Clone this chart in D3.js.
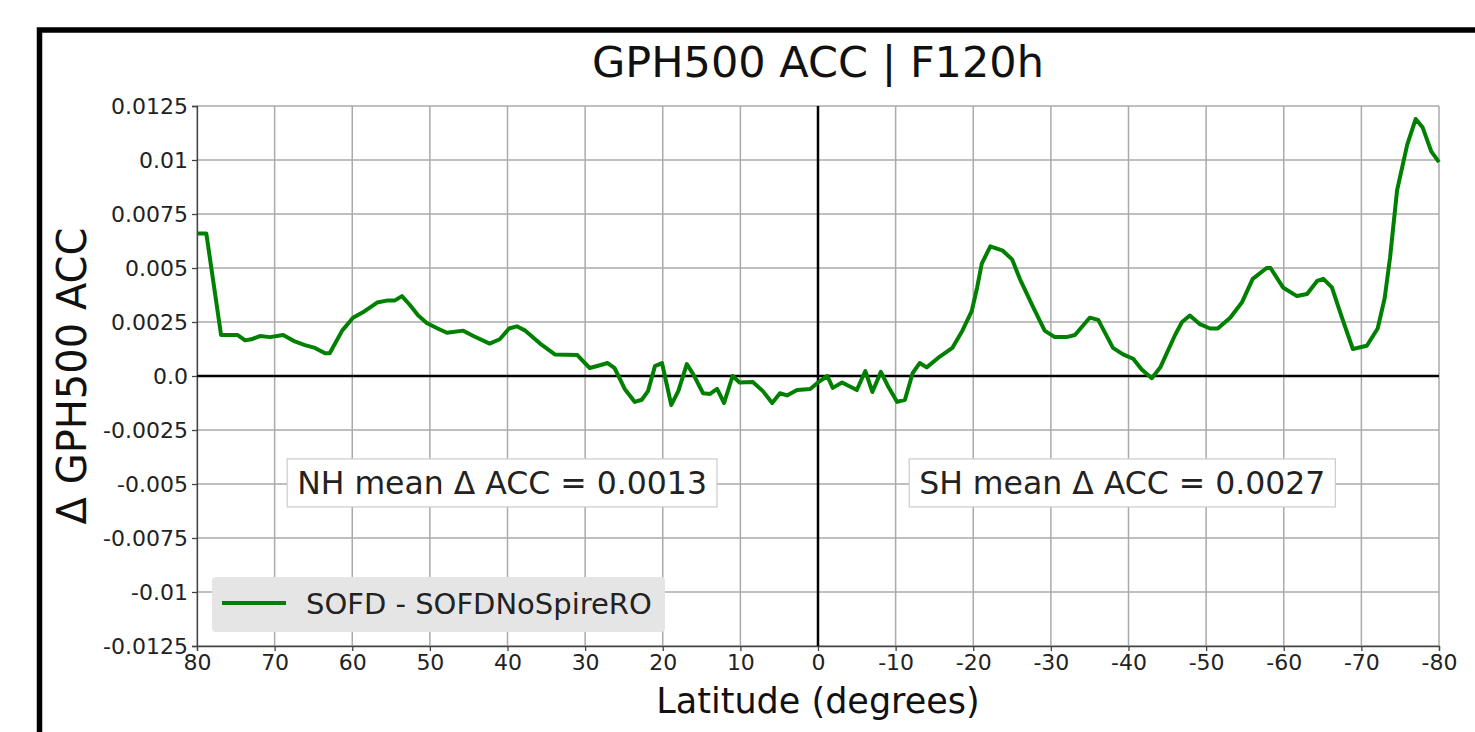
<!DOCTYPE html>
<html>
<head>
<meta charset="utf-8">
<script src="https://cdn.jsdelivr.net/npm/d3@7"></script>
<style>
  body { margin: 0; background: #fff; }
  svg { display: block; font-family: "DejaVu Sans", sans-serif; }
</style>
</head>
<body>
<div class="acc-plot"></div>
<script>
// latitude (deg) and delta ACC, north to south
const latitudes = [
  80, 78.8, 76.9, 74.8, 73.8, 73.0, 71.9, 70.6, 68.9, 67.4, 66.1, 64.8, 63.5, 62.9, 61.3,
  59.9, 58.4, 56.8, 55.4, 54.5, 53.6, 52.6, 51.5, 50.4, 49.0, 47.8, 45.7, 44.4, 42.3, 41.0,
  39.8, 38.8, 37.7, 35.8, 33.9, 31.0, 30.4, 29.4, 28.1, 27.1, 26.2, 24.9, 23.6, 22.7, 21.9,
  21.0, 20.1, 18.9, 18.0, 16.9, 16.1, 14.8, 13.9, 13.0, 12.1, 11.0, 10.1, 8.4, 7.1, 5.9,
  4.9, 4.0, 2.7, 1.0, 0.0, -1.2, -1.9, -3.1, -5.0, -6.1, -7.0, -8.1, -9.0, -10.2, -11.2,
  -12.2, -13.1, -14.0, -15.7, -17.3, -18.6, -19.8, -20.5, -21.1, -22.2, -23.8, -25.0, -26.0, -27.7, -29.2,
  -30.5, -32.0, -33.1, -35.0, -36.1, -38.0, -39.3, -40.6, -41.7, -43.0, -44.1, -46.0, -46.9, -47.9, -49.2,
  -50.5, -51.5, -53.1, -54.6, -56.0, -57.8, -58.3, -59.9, -61.7, -63.0, -64.3, -65.1, -66.2, -67.5, -68.9,
  -70.7, -72.1, -73.0, -73.7, -74.6, -75.9, -77.0, -77.9, -79.0, -80
];
const deltaAcc = [
  0.0066, 0.0066, 0.0019, 0.0019, 0.00165, 0.0017, 0.00185, 0.0018, 0.0019, 0.0016, 0.00143, 0.0013, 0.00105, 0.00105, 0.0021,
  0.0027, 0.003, 0.0034, 0.0035, 0.0035, 0.0037, 0.0033, 0.0028, 0.00245, 0.0022, 0.002, 0.0021, 0.00185, 0.0015, 0.0017,
  0.0022, 0.0023, 0.0021, 0.0015, 0.001, 0.00097, 0.00074, 0.00037, 0.0005, 0.0006, 0.00037, -0.0006, -0.0012, -0.0011, -0.0007,
  0.00046, 0.0006, -0.00134, -0.0007, 0.00055, 0.0001, -0.0008, -0.00083, -0.0006, -0.00125, 0.0, -0.0003, -0.00028, -0.0007, -0.00125,
  -0.0008, -0.0009, -0.00065, -0.0006, -0.0003, 0.0, -0.00055, -0.0003, -0.00065, 0.00023, -0.00074, 0.00019, -0.00046, -0.0012, -0.0011,
  0.00014, 0.0006, 0.0004, 0.0009, 0.0013, 0.0021, 0.003, 0.0041, 0.0052, 0.006, 0.0058, 0.0054, 0.0045, 0.0032, 0.0021,
  0.0018, 0.0018, 0.0019, 0.0027, 0.0026, 0.0013, 0.001, 0.0008, 0.0003, -0.0001, 0.0004, 0.0019, 0.0025, 0.0028, 0.0024,
  0.0022, 0.0022, 0.0027, 0.0034, 0.0045, 0.005, 0.005, 0.0041, 0.0037, 0.0038, 0.0044, 0.0045, 0.0041, 0.0027, 0.00125,
  0.0014, 0.0022, 0.0036, 0.0055, 0.0086, 0.0107, 0.0119, 0.0115, 0.0104, 0.0099
];

const xTicks = [80, 70, 60, 50, 40, 30, 20, 10, 0, -10, -20, -30, -40, -50, -60, -70, -80];
const yTicks = [0.0125, 0.01, 0.0075, 0.005, 0.0025, 0, -0.0025, -0.005, -0.0075, -0.01, -0.0125];
const yTickLabels = ["0.0125", "0.01", "0.0075", "0.005", "0.0025", "0.0", "-0.0025", "-0.005", "-0.0075", "-0.01", "-0.0125"];

const seriesName = "SOFD - SOFDNoSpireRO";
const titleText = "GPH500 ACC | F120h";
const nhText = "NH mean \u0394 ACC = 0.0013";
const shText = "SH mean \u0394 ACC = 0.0027";

const width = 1475;
const height = 732;
const plot = {left: 197, right: 1439, top: 106, bottom: 646};

const svg = d3.select('.acc-plot')
    .append('svg')
    .attr('width', width)
    .attr('height', height);

// outer black frame (cut off on right and bottom)
svg.append('path')
    .attr('d', 'M39.5,' + (height + 10) + ' V30 H' + (width + 10))
    .attr('fill', 'none')
    .attr('stroke', '#000')
    .attr('stroke-width', 5.5);

const x = d3.scaleLinear().domain([80, -80]).range([plot.left, plot.right]);
const y = d3.scaleLinear().domain([-0.0125, 0.0125]).range([plot.bottom, plot.top]);

// grid
svg.append('g')
    .selectAll('line')
    .data(xTicks)
    .enter()
    .append('line')
    .attr('x1', d => x(d)).attr('x2', d => x(d))
    .attr('y1', plot.top).attr('y2', plot.bottom)
    .attr('stroke', '#aaa')
    .attr('stroke-width', 1.5);
svg.append('g')
    .selectAll('line')
    .data(yTicks)
    .enter()
    .append('line')
    .attr('y1', d => y(d)).attr('y2', d => y(d))
    .attr('x1', plot.left).attr('x2', plot.right)
    .attr('stroke', '#aaa')
    .attr('stroke-width', 1.5);

// axes
const xAxis = svg.append('g')
    .attr('transform', 'translate(0,' + plot.bottom + ')')
    .call(d3.axisBottom(x).tickValues(xTicks).tickSize(5).tickPadding(3).tickFormat(d => String(d)));
const yAxis = svg.append('g')
    .attr('transform', 'translate(' + plot.left + ',0)')
    .call(d3.axisLeft(y).tickValues(yTicks).tickSize(5).tickPadding(4)
        .tickFormat((d, i) => yTickLabels[i]));
[xAxis, yAxis].forEach(a => {
    a.select('.domain').attr('stroke', '#444').attr('stroke-width', 1.3);
    a.selectAll('.tick line').attr('stroke', '#444').attr('stroke-width', 1.3);
    a.selectAll('.tick text')
        .attr('font-size', 22)
        .attr('font-family', '"DejaVu Sans", sans-serif')
        .attr('fill', '#222');
});

// zero lines
svg.append('line')
    .attr('x1', plot.left).attr('x2', plot.right)
    .attr('y1', y(0)).attr('y2', y(0))
    .attr('stroke', '#000').attr('stroke-width', 2.5);
svg.append('line')
    .attr('x1', x(0)).attr('x2', x(0))
    .attr('y1', plot.top).attr('y2', plot.bottom)
    .attr('stroke', '#000').attr('stroke-width', 2.5);

// the curve
const points = latitudes.map((lat, i) => ({lat: lat, v: deltaAcc[i]}));
const line = d3.line()
    .x(d => x(d.lat))
    .y(d => y(d.v));
svg.append('path')
    .datum(points)
    .attr('d', line)
    .attr('fill', 'none')
    .attr('stroke', '#008000')
    .attr('stroke-width', 4)
    .attr('stroke-linejoin', 'round');

// hemisphere mean boxes
function noteBox(cx, cy, txt){
    const g = svg.append('g');
    const t = g.append('text')
        .text(txt)
        .attr('x', cx)
        .attr('y', cy + 11)
        .attr('text-anchor', 'middle')
        .attr('font-size', 31.5)
        .attr('fill', '#222');
    const bb = t.node().getBBox();
    g.insert('rect', 'text')
        .attr('x', bb.x - 10)
        .attr('y', cy - 24)
        .attr('width', bb.width + 20)
        .attr('height', 48)
        .attr('fill', '#fff')
        .attr('stroke', '#ccc')
        .attr('stroke-width', 1.2);
}
noteBox(x(40.7), y(-0.00495), nhText);
noteBox(x(-39.2), y(-0.00495), shText);

// legend
const legend = svg.append('g');
legend.append('rect')
    .attr('x', 212).attr('y', 577)
    .attr('width', 453).attr('height', 55)
    .attr('rx', 4)
    .attr('fill', '#e5e5e5');
legend.append('line')
    .attr('x1', 222).attr('x2', 286)
    .attr('y1', 603).attr('y2', 603)
    .attr('stroke', '#008000')
    .attr('stroke-width', 4);
legend.append('text')
    .text(seriesName)
    .attr('x', 306)
    .attr('y', 614)
    .attr('font-size', 29)
    .attr('fill', '#222');

// title and axis labels
svg.append('text')
    .text(titleText)
    .attr('x', (plot.left + plot.right) / 2)
    .attr('y', 77)
    .attr('text-anchor', 'middle')
    .attr('font-size', 43)
    .attr('fill', '#111');
svg.append('text')
    .text('Latitude (degrees)')
    .attr('x', (plot.left + plot.right) / 2)
    .attr('y', 713)
    .attr('text-anchor', 'middle')
    .attr('font-size', 35)
    .attr('fill', '#111');
svg.append('text')
    .text('\u0394 GPH500 ACC')
    .attr('transform', 'translate(86,' + ((plot.top + plot.bottom) / 2) + ') rotate(-90)')
    .attr('text-anchor', 'middle')
    .attr('font-size', 40)
    .attr('fill', '#111');
</script>
</body>
</html>
